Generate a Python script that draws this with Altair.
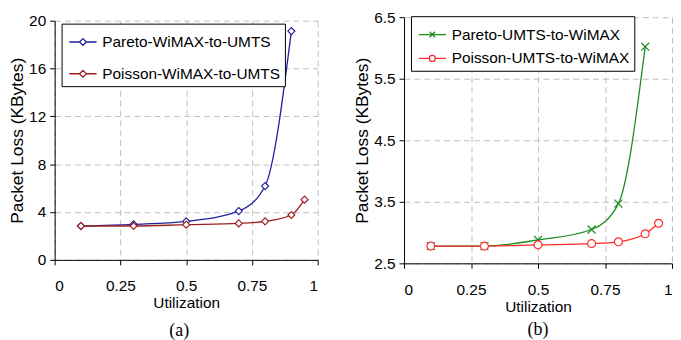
import altair as alt
import pandas as pd

# ---------------- data ----------------
x_pareto = [0.1, 0.3, 0.5, 0.7, 0.8, 0.9]
x_poisson = [0.1, 0.3, 0.5, 0.7, 0.8, 0.9, 0.95]

a_pareto = [2.83, 2.97, 3.22, 4.08, 6.17, 19.13]
a_poisson = [2.83, 2.83, 2.94, 3.05, 3.22, 3.75, 5.03]
b_pareto = [2.78, 2.78, 2.88, 3.05, 3.47, 6.02]
b_poisson = [2.78, 2.78, 2.80, 2.82, 2.85, 2.98, 3.15]

a_names = ["Pareto-WiMAX-to-UMTS", "Poisson-WiMAX-to-UMTS"]
b_names = ["Pareto-UMTS-to-WiMAX", "Poisson-UMTS-to-WiMAX"]
a_colors = ["#1f1f9f", "#9f1f1f"]
b_colors = ["#1e8c1e", "#ff2a2a"]

x_ticks = [0, 0.25, 0.5, 0.75, 1]
a_yticks = [0, 4, 8, 12, 16, 20]
b_yticks = [2.5, 3.5, 4.5, 5.5, 6.5]

FONT = "Liberation Sans"


def make_df(names, ys_list):
    rows = []
    for name, xs, ys in zip(names, [x_pareto, x_poisson], ys_list):
        for u, v in zip(xs, ys):
            rows.append({"series": name, "u": u, "loss": v})
    return pd.DataFrame(rows)


df_a = make_df(a_names, [a_pareto, a_poisson])
df_b = make_df(b_names, [b_pareto, b_poisson])

DIAMOND = "diamond"
XMARK = "M-1,-1L1,1M-1,1L1,-1"
CIRCLE = "circle"

LEG_DIAMOND = "M-1,0L-0.25,0M0.25,0L1,0M0,-0.25L0.25,0L0,0.25L-0.25,0Z"
LEG_X = "M-1,0L1,0M-0.2,-0.2L0.2,0.2M-0.2,0.2L0.2,-0.2"
LEG_CIRCLE = "M-1,0L-0.22,0M0.22,0L1,0M0.22,0A0.22,0.22,0,1,1,-0.22,0A0.22,0.22,0,1,1,0.22,0Z"


def panel(df, names, colors, ydomain, yticks, yfmt, marker_shapes, marker_sizes,
          legend_paths, lx, ly, row_pad, w, h, caption, cap_dx, cap_off):
    xs = alt.X("u:Q", scale=alt.Scale(domain=[0, 1], nice=False),
               axis=alt.Axis(values=x_ticks, format=".2~f", title="Utilization"))
    ys = alt.Y("loss:Q", scale=alt.Scale(domain=ydomain, nice=False, zero=False),
               axis=alt.Axis(values=yticks, format=yfmt, title="Packet Loss (KBytes)"))
    cscale = alt.Scale(domain=names, range=colors)
    color_nl = alt.Color("series:N", scale=cscale, legend=None)
    base = alt.Chart(df)
    leg_kwargs = dict(orient="none", legendX=lx, legendY=ly, title=None,
                      padding=4, rowPadding=row_pad, symbolOffset=3, labelOffset=5,
                      strokeColor="black", fillColor="white",
                      labelFont=FONT, labelFontSize=15.5, labelColor="black",
                      labelLimit=400, symbolSize=756, symbolStrokeWidth=1.3)
    leg = (
        base.transform_filter("false")
        .mark_point(size=756, filled=False, strokeWidth=1.3, opacity=1)
        .encode(
            x=xs, y=ys,
            color=alt.Color("series:N", scale=cscale, legend=alt.Legend(**leg_kwargs)),
            shape=alt.Shape("series:N", scale=alt.Scale(domain=names, range=legend_paths),
                            legend=alt.Legend(**leg_kwargs)),
        )
    )
    line = base.mark_line(interpolate="monotone", strokeWidth=1.3).encode(
        x=xs, y=ys, color=color_nl)
    layers = [leg, line]
    for name, shp, sz in zip(names, marker_shapes, marker_sizes):
        layers.append(
            base.transform_filter(alt.datum.series == name)
            .mark_point(shape=shp, size=sz, filled=False, fill="white",
                        strokeWidth=1.2, opacity=1)
            .encode(x=xs, y=ys, color=color_nl)
        )
    return alt.layer(*layers).properties(
        width=w, height=h,
        title=alt.TitleParams(caption, orient="bottom", font="Liberation Serif",
                              fontSize=18, fontWeight="normal", color="black",
                              dx=cap_dx, offset=cap_off),
    )


pa = panel(df_a, a_names, a_colors, [0, 20], a_yticks, "d",
           [DIAMOND, DIAMOND], [50, 50], [LEG_DIAMOND, LEG_DIAMOND],
           7, 3, 9, 265, 241, "(a)", -7, 11)
pb = panel(df_b, b_names, b_colors, [2.5, 6.5], b_yticks, ".1f",
           [XMARK, CIRCLE], [64, 64], [LEG_X, LEG_CIRCLE],
           7, -1, 1, 270, 248, "(b)", 0, 6)

chart = (
    alt.concat(pa, pb, columns=2, spacing=87, bounds="flush", center=True, align="each")
    .resolve_scale(color="independent", shape="independent")
    .resolve_legend(color="independent", shape="independent")
    .properties(padding={"left": 0, "top": 0, "right": 0, "bottom": 0})
    .configure_view(stroke="transparent")
    .configure_axis(domainColor="black", tickColor="black", tickSize=5,
                    gridColor="#c0c0c0", gridDash=[6, 4], gridWidth=1,
                    labelFont=FONT, labelFontSize=15.5, labelColor="black",
                    titleFont=FONT, titleFontSize=15.5, titleFontWeight="normal",
                    titleColor="black")
    .configure_axisX(labelPadding=14, titlePadding=2)
    .configure_axisY(labelPadding=4, titlePadding=2, titleFontSize=17.5)
)

chart.save("out.html", embed_options={"renderer": "svg", "actions": False})
